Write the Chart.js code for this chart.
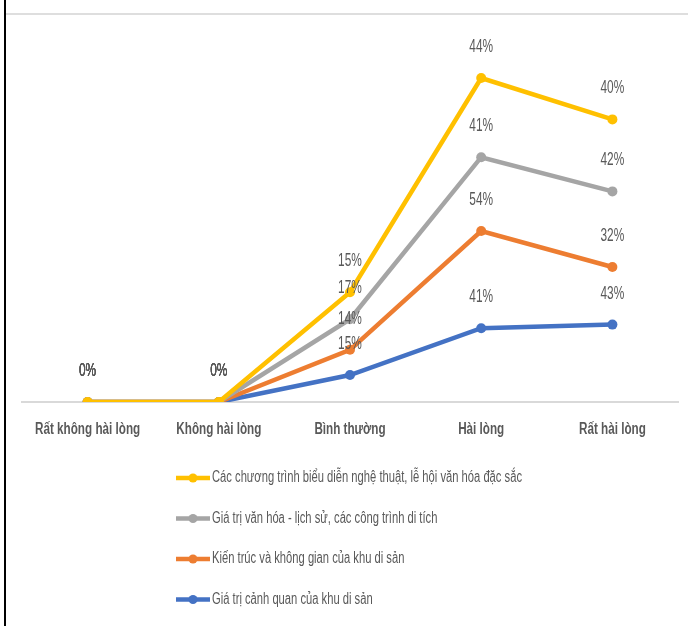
<!DOCTYPE html>
<html>
<head>
<meta charset="utf-8">
<script src="https://cdn.jsdelivr.net/npm/chart.js@4"></script>
<style>
  html, body { margin: 0; padding: 0; background: #fff; }
  #wrap { position: relative; width: 688px; height: 626px; overflow: hidden; }
  #leftRule { position: absolute; left: 4px; top: 0; width: 2px; height: 626px; background: #000; }
  #topRule { position: absolute; left: 6px; top: 13px; width: 682px; height: 2px; background: #dedede; }
  canvas { position: absolute; left: 0; top: 0; }
</style>
</head>
<body>
<div id="wrap">
  <canvas id="satisfactionChart" width="688" height="626"></canvas>
  <div id="leftRule"></div>
  <div id="topRule"></div>
</div>
<script>
// Mức độ hài lòng
const categories = ['Rất không hài lòng', 'Không hài lòng', 'Bình thường', 'Hài lòng', 'Rất hài lòng'];

// Tỷ lệ (%) theo từng tiêu chí
const bieuDien = [0, 0, 15, 44, 40];   // Các chương trình biểu diễn nghệ thuật, lễ hội
const vanHoa = [0, 0, 17, 41, 42];     // Giá trị văn hóa - lịch sử
const kienTruc = [0, 0, 14, 54, 32];   // Kiến trúc và không gian
const canhQuan = [0, 0, 15, 41, 43];   // Giá trị cảnh quan

const seriesNames = [
    'Các chương trình biểu diễn nghệ thuật, lễ hội văn hóa đặc sắc',
    'Giá trị văn hóa - lịch sử, các công trình di tích',
    'Kiến trúc và không gian của khu di sản',
    'Giá trị cảnh quan của khu di sản'
];
const seriesColors = ['#FFC000', '#A5A5A5', '#ED7D31', '#4472C4'];

const FONT = "'Liberation Sans', Arial, sans-serif";
const TEXT_COLOR = '#595959';

// đường cộng dồn: cảnh quan ở dưới cùng, biểu diễn ở trên cùng
const order = [bieuDien, vanHoa, kienTruc, canhQuan];
function cumulative(idx) {
    return categories.map((_, i) => {
        let s = 0;
        for (let k = idx; k < order.length; k++) s += order[k][i];
        return s;
    });
}

const datasets = order.map((vals, idx) => ({
    label: seriesNames[idx],
    data: cumulative(idx),
    rawValues: vals,
    borderColor: seriesColors[idx],
    backgroundColor: seriesColors[idx],
    borderWidth: 4.5,
    pointRadius: 5,
    pointHoverRadius: 5,
    pointBorderWidth: 0,
    tension: 0,
    fill: false
}));

// chữ hẹp: co ngang chữ thường
function narrowText(ctx, text, x, y, sx, align) {
    ctx.save();
    ctx.translate(x, y);
    ctx.scale(sx, 1);
    ctx.textAlign = align;
    ctx.fillText(text, 0, 0);
    ctx.restore();
}

// nhãn % phía trên mỗi điểm
const valueLabels = {
    id: 'valueLabels',
    afterDatasetsDraw(chart) {
        const ctx = chart.ctx;
        ctx.save();
        ctx.font = '18px ' + FONT;
        ctx.fillStyle = TEXT_COLOR;
        ctx.textBaseline = 'middle';
        chart.data.datasets.forEach((ds, di) => {
            chart.getDatasetMeta(di).data.forEach((pt, i) => {
                narrowText(ctx, ds.rawValues[i] + '%', pt.x, pt.y - 31, 0.66, 'center');
            });
        });
        ctx.restore();
    }
};

// nhãn trục hoành
const categoryLabels = {
    id: 'categoryLabels',
    afterDraw(chart) {
        const ctx = chart.ctx;
        const xs = chart.scales.x;
        ctx.save();
        ctx.font = 'bold 16px ' + FONT;
        ctx.fillStyle = TEXT_COLOR;
        ctx.textBaseline = 'middle';
        categories.forEach((c, i) => {
            narrowText(ctx, c, xs.getPixelForValue(i), chart.chartArea.bottom + 28, 0.73, 'center');
        });
        ctx.restore();
    }
};

// chú thích dạng danh sách dọc
const verticalLegend = {
    id: 'verticalLegend',
    afterDraw(chart) {
        const ctx = chart.ctx;
        const x0 = 176, top = 478, gap = 40.5;
        ctx.save();
        ctx.font = '16px ' + FONT;
        ctx.textBaseline = 'middle';
        chart.data.datasets.forEach((ds, i) => {
            const y = top + i * gap;
            ctx.strokeStyle = ds.borderColor;
            ctx.lineWidth = 4.5;
            ctx.beginPath();
            ctx.moveTo(x0, y);
            ctx.lineTo(x0 + 34, y);
            ctx.stroke();
            ctx.fillStyle = ds.borderColor;
            ctx.beginPath();
            ctx.arc(x0 + 17, y, 4.5, 0, Math.PI * 2);
            ctx.fill();
            ctx.fillStyle = TEXT_COLOR;
            narrowText(ctx, ds.label, x0 + 36, y, 0.7, 'left');
        });
        ctx.restore();
    }
};

new Chart(document.getElementById('satisfactionChart').getContext('2d'), {
    type: 'line',
    data: { labels: categories, datasets: datasets },
    options: {
        responsive: false,
        animation: false,
        layout: { padding: { left: 22, right: 10, top: 42, bottom: 216 } },
        plugins: {
            legend: { display: false },
            tooltip: { enabled: false }
        },
        scales: {
            x: {
                offset: true,
                grid: { display: false },
                border: { display: true, color: '#d9d9d9', width: 2 },
                ticks: { display: false }
            },
            y: {
                display: false,
                min: 0,
                max: 200
            }
        }
    },
    plugins: [valueLabels, categoryLabels, verticalLegend]
});
</script>
</body>
</html>
